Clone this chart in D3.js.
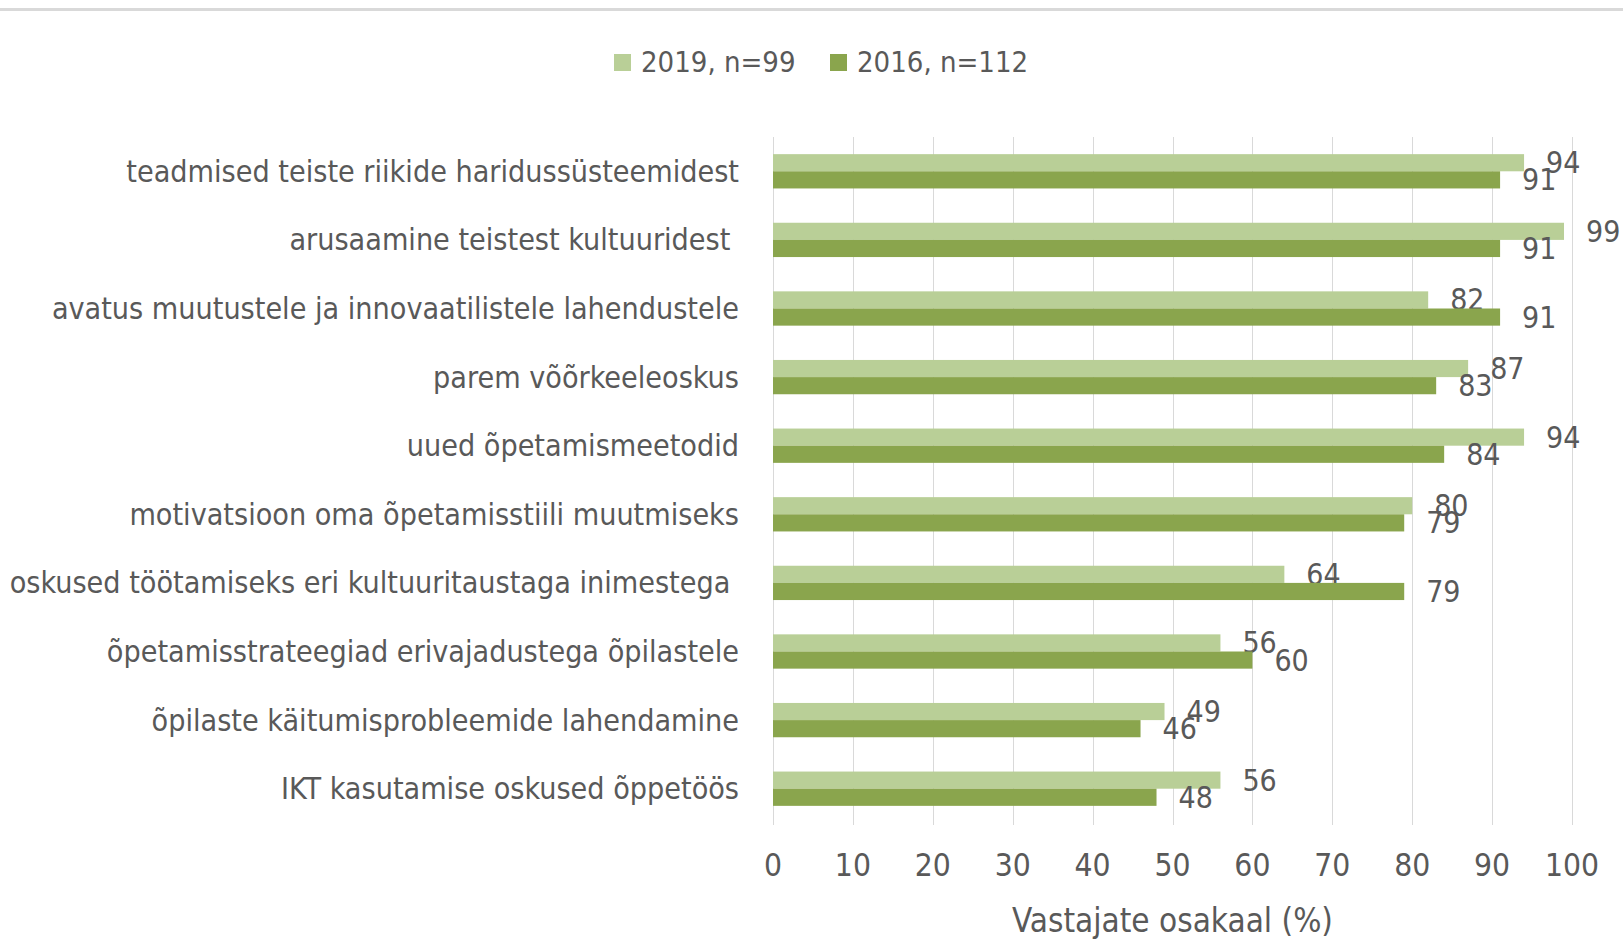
<!DOCTYPE html>
<html>
<head>
<meta charset="utf-8">
<script src="https://cdn.jsdelivr.net/npm/d3@7"></script>
<style>
  html, body { margin: 0; padding: 0; background: #fff; }
  svg { display: block; }
  text { font-family: "Liberation Sans Narrow", "DejaVu Sans Condensed", "Open Sans", sans-serif; fill: #595959; }
</style>
</head>
<body>
<svg id="chart" width="1623" height="940"></svg>
<script>
// Category labels, top to bottom (trailing spaces kept as in the source).
var categories = [
  'teadmised teiste riikide haridussüsteemidest',
  'arusaamine teistest kultuuridest ',
  'avatus muutustele ja innovaatilistele lahendustele',
  'parem võõrkeeleoskus',
  'uued õpetamismeetodid',
  'motivatsioon oma õpetamisstiili muutmiseks',
  'oskused töötamiseks eri kultuuritaustaga inimestega ',
  'õpetamisstrateegiad erivajadustega õpilastele',
  'õpilaste käitumisprobleemide lahendamine',
  'IKT kasutamise oskused õppetöös'
];

var values2019 = [94, 99, 82, 87, 94, 80, 64, 56, 49, 56];
var values2016 = [91, 91, 91, 83, 84, 79, 79, 60, 46, 48];

var seriesNames = ['2019, n=99', '2016, n=112'];
var seriesColors = ['#b9cf97', '#8aa54d'];

var xTicks = [0, 10, 20, 30, 40, 50, 60, 70, 80, 90, 100];
var xTitle = 'Vastajate osakaal (%)';

var W = 1623, H = 940;
var plot = {left: 773, right: 1572, top: 137, bottom: 823};

var svg = d3.select('#chart');

// Thin rule along the top edge.
svg.append('line')
    .attr('x1', 0).attr('x2', W)
    .attr('y1', 9.5).attr('y2', 9.5)
    .attr('stroke', '#d9d9d9')
    .attr('stroke-width', 3);

var x = d3.scaleLinear().domain([0, 100]).range([plot.left, plot.right]);

var y = d3.scaleBand()
    .domain(categories)
    .range([plot.top, plot.bottom])
    .paddingInner(0.5)
    .paddingOuter(0.25);

var sub = d3.scaleBand()
    .domain([0, 1])
    .range([0, y.bandwidth()]);

// Vertical gridlines (include the zero line).
svg.append('g')
    .selectAll('line')
    .data(xTicks)
    .join('line')
    .attr('x1', function(d) { return Math.round(x(d)) + 0.5; })
    .attr('x2', function(d) { return Math.round(x(d)) + 0.5; })
    .attr('y1', plot.top)
    .attr('y2', plot.bottom + 2)
    .attr('stroke', '#d9d9d9')
    .attr('stroke-width', 1);

// Tick labels.
svg.append('g')
    .selectAll('text')
    .data(xTicks)
    .join('text')
    .attr('x', function(d) { return x(d); })
    .attr('y', 865)
    .attr('text-anchor', 'middle')
    .attr('dominant-baseline', 'central')
    .style('font-size', '31.5px')
    .text(function(d) { return d; });

svg.append('text')
    .attr('x', (plot.left + plot.right) / 2)
    .attr('y', 920)
    .attr('text-anchor', 'middle')
    .attr('dominant-baseline', 'central')
    .style('font-size', '33px')
    .text(xTitle);

// Category labels, right aligned next to the axis.
svg.append('g')
    .selectAll('text')
    .data(categories)
    .join('text')
    .attr('x', 739)
    .attr('y', function(d) { return y(d) + y.bandwidth() / 2; })
    .attr('text-anchor', 'end')
    .attr('dominant-baseline', 'central')
    .attr('xml:space', 'preserve')
    .style('white-space', 'pre')
    .style('font-size', '30.2px')
    .text(function(d) { return d; });

var series = [values2019, values2016];

series.forEach(function(vals, si) {
  var rows = categories.map(function(c, i) { return {cat: c, v: vals[i]}; });
  var g = svg.append('g');

  g.selectAll('rect')
      .data(rows)
      .join('rect')
      .attr('x', x(0))
      .attr('y', function(d) { return y(d.cat) + sub(si); })
      .attr('width', function(d) { return x(d.v) - x(0); })
      .attr('height', sub.bandwidth())
      .attr('fill', seriesColors[si]);

  // Value labels, just right of the bar end.
  g.selectAll('text')
      .data(rows)
      .join('text')
      .attr('x', function(d) { return x(d.v) + 22; })
      .attr('y', function(d) { return y(d.cat) + sub(si) + sub.bandwidth() / 2; })
      .attr('dominant-baseline', 'central')
      .style('font-size', '30px')
      .text(function(d) { return d.v; });
});

// Legend.
var legendItems = [
  {name: seriesNames[0], color: seriesColors[0], x: 614},
  {name: seriesNames[1], color: seriesColors[1], x: 830}
];
var legend = svg.append('g').selectAll('g')
    .data(legendItems)
    .join('g')
    .attr('transform', function(d) { return 'translate(' + d.x + ',62)'; });
legend.append('rect')
    .attr('x', 0).attr('y', -8)
    .attr('width', 17).attr('height', 17)
    .attr('fill', function(d) { return d.color; });
legend.append('text')
    .attr('x', 27)
    .attr('y', 0)
    .attr('dominant-baseline', 'central')
    .style('font-size', '29px')
    .text(function(d) { return d.name; });
</script>
</body>
</html>
